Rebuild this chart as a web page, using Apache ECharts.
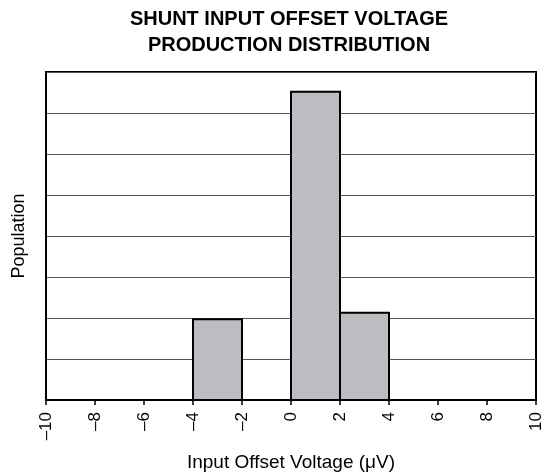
<!DOCTYPE html>
<html>
<head>
<meta charset="utf-8">
<script src="https://cdn.jsdelivr.net/npm/echarts@6/dist/echarts.min.js"></script>
<style>
  html, body { margin: 0; padding: 0; background: #fff; }
  #chart { width: 545px; height: 474px; }
</style>
</head>
<body>
<div id="chart"></div>
<script>
// histogram bins: [from, to, population]
const binStart = [-4, 0, 2]
const binEnd = [-2, 2, 4]
const population = [1.97, 7.52, 2.13]

const chart = echarts.init(document.getElementById('chart'))

chart.setOption({
  animation: false,
  title: {
    text: 'SHUNT INPUT OFFSET VOLTAGE\nPRODUCTION DISTRIBUTION',
    left: 284,
    top: 1,
    textAlign: 'center',
    textStyle: {
      fontFamily: 'Liberation Sans',
      fontWeight: 'bold',
      fontSize: 20,
      lineHeight: 26,
      color: '#000'
    }
  },
  grid: {
    left: 46,
    right: 9,
    top: 72,
    bottom: 74,
    containLabel: false,
    outerBoundsMode: 'none',
    show: true,
    borderColor: '#000',
    borderWidth: 2
  },
  xAxis: {
    type: 'value',
    min: -10,
    max: 10,
    interval: 2,
    name: 'Input Offset Voltage (\u03bcV)',
    nameLocation: 'middle',
    nameGap: 53,
    nameTextStyle: { fontFamily: 'Liberation Sans', fontSize: 19, color: '#000' },
    axisLine: { show: true, lineStyle: { color: '#000', width: 2 } },
    axisTick: { show: true, length: 5, lineStyle: { color: '#000', width: 1.5 } },
    splitLine: { show: false },
    axisLabel: {
      rotate: 90,
      margin: 12,
      fontFamily: 'Liberation Sans',
      fontSize: 17,
      color: '#000',
      formatter: v => (v < 0 ? '\u2013' + Math.abs(v) : String(v))
    }
  },
  yAxis: {
    type: 'value',
    min: 0,
    max: 8,
    interval: 1,
    name: 'Population',
    nameLocation: 'middle',
    nameGap: 18,
    nameTextStyle: { fontFamily: 'Liberation Sans', fontSize: 18, color: '#000' },
    axisLine: { show: true, onZero: false, lineStyle: { color: '#000', width: 2 } },
    axisTick: { show: false },
    axisLabel: { show: false },
    splitLine: { show: true, lineStyle: { color: '#555', width: 1 } }
  },
  series: [{
    type: 'custom',
    data: binStart.map((s, i) => [s, binEnd[i], population[i]]),
    encode: { x: [0, 1], y: 2 },
    renderItem(params, api) {
      const p0 = api.coord([api.value(0), 0])
      const p1 = api.coord([api.value(1), api.value(2)])
      return {
        type: 'rect',
        shape: { x: p0[0], y: p1[1], width: p1[0] - p0[0], height: p0[1] - p1[1] },
        style: { fill: '#bcbdc1', stroke: '#000', lineWidth: 2 }
      }
    }
  }]
})
</script>
</body>
</html>
